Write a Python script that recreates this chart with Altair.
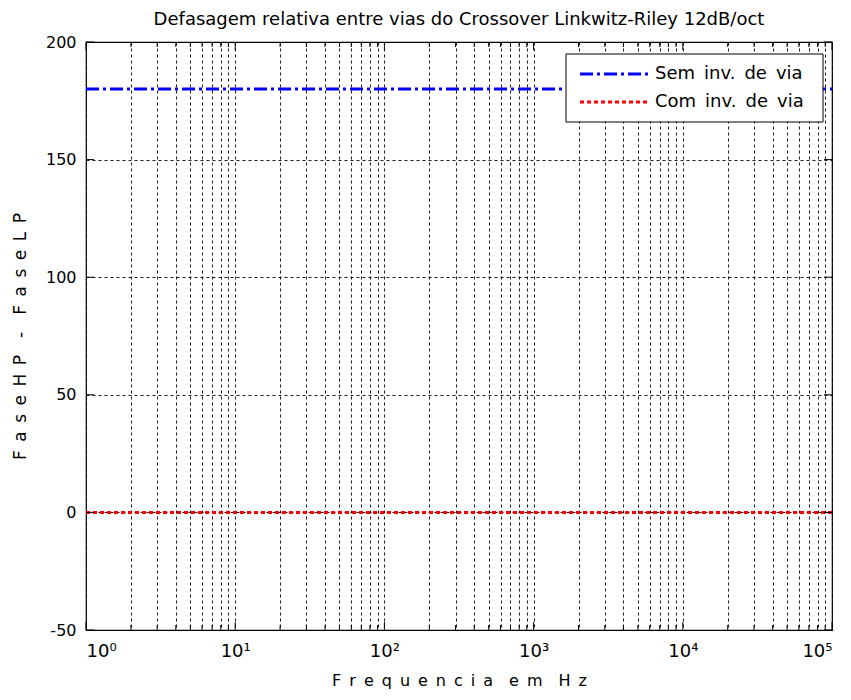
import altair as alt
import pandas as pd

# ---- data ----
freq_range = [1, 100000]
series_names = ["Sem inv. de via", "Com inv. de via"]
series_values = [180, 0]
major_freqs = [1, 10, 100, 1000, 10000, 100000]
minor_freqs = [k * 10 ** d for d in range(5) for k in range(2, 10)]
y_ticks = [-50, 0, 50, 100, 150, 200]

W, H = 746, 588
FONT = "DejaVu Sans"
SP = "\u2002"

def spaced(words):
    return (SP * 2).join(SP.join(list(w)) for w in words)

rows = []
for name, v in zip(series_names, series_values):
    for f in freq_range:
        rows.append({"freq": f, "fase": v, "serie": name})
lines_df = pd.DataFrame(rows)
maj_df = pd.DataFrame({"freq": major_freqs})
min_df = pd.DataFrame({"freq": minor_freqs})
yt_df = pd.DataFrame({"v": y_ticks})

xscale = alt.Scale(type="log", domain=[1, 100000], nice=False)
yscale = alt.Scale(domain=[-50, 200], nice=False, zero=False)
colors = ["#0000ff", "#ff0000"]
dashes = [[13, 4, 3, 4], [4, 3]]

label_expr = ("abs(datum.value - pow(10, round(log(datum.value)/LN10))) < 1e-6*datum.value ? "
              "'10' + ['⁰','¹','²','³','⁴','⁵'][round(log(datum.value)/LN10)] : ''")

x_axis = alt.Axis(values=sorted(major_freqs + minor_freqs), labelExpr=label_expr,
                  grid=True, gridDash=[3, 3], gridColor="black", gridOpacity=1, gridWidth=0.9,
                  ticks=False, domain=False, labelOverlap=False, labelPadding=12,
                  labelFontSize=18, labelFont=FONT, labelColor="black",
                  title=spaced(["Frequencia", "em", "Hz"]), titleFontSize=16, titleFont=FONT,
                  titleFontWeight="normal", titlePadding=12, titleColor="black")
y_axis = alt.Axis(values=y_ticks, labelExpr="replace(datum.label, '\u2212', '-')",
                  grid=True, gridDash=[3, 3], gridColor="black", gridOpacity=1,
                  gridWidth=0.9, ticks=False, domain=False, labelPadding=10,
                  labelFontSize=16, labelFont=FONT, labelColor="black",
                  title=spaced(["FaseHP", "-", "FaseLP"]), titleFontSize=17, titleFont=FONT,
                  titleFontWeight="normal", titlePadding=16, titleColor="black")

lines = alt.Chart(lines_df).mark_line(strokeWidth=3, clip=True).encode(
    x=alt.X("freq:Q", scale=xscale, axis=x_axis),
    y=alt.Y("fase:Q", scale=yscale, axis=y_axis),
    color=alt.Color("serie:N", scale=alt.Scale(domain=series_names, range=colors), legend=None),
    strokeDash=alt.StrokeDash("serie:N", scale=alt.Scale(domain=series_names, range=dashes), legend=None),
)

def xticks(df, y0, y1):
    return alt.Chart(df).mark_rule(color="black", strokeWidth=1).encode(
        x=alt.X("freq:Q", scale=xscale), y=alt.value(y0), y2=alt.value(y1))

def yticks(x0, x1):
    return alt.Chart(yt_df).mark_rule(color="black", strokeWidth=1).encode(
        y=alt.Y("v:Q", scale=yscale), x=alt.value(x0), x2=alt.value(x1))

# ---- manual legend (box in the top-right corner) ----
one = pd.DataFrame({"a": [0]})
LX0, LX1, LY0, LY1 = 480, 737, 12, 80
legend_box = alt.Chart(one).mark_rect(fill="white", stroke="black", strokeWidth=1).encode(
    x=alt.value(LX0), x2=alt.value(LX1), y=alt.value(LY0), y2=alt.value(LY1))
legend_layers = [legend_box]
for i, name in enumerate(series_names):
    yy = 32 + 28 * i
    legend_layers.append(alt.Chart(one).mark_rule(color=colors[i], strokeWidth=3, strokeDash=dashes[i]).encode(
        x=alt.value(494), x2=alt.value(562), y=alt.value(yy)))
    legend_layers.append(alt.Chart(one).mark_text(
        text=name.replace(" ", SP), align="left", baseline="middle", font=FONT, fontSize=18, color="black").encode(
        x=alt.value(569), y=alt.value(yy)))

chart = alt.layer(
    lines,
    xticks(maj_df, H, H - 8), xticks(maj_df, 0, 8),
    xticks(min_df, H, H - 5), xticks(min_df, 0, 5),
    yticks(0, 8), yticks(W, W - 8),
    *legend_layers,
).properties(
    width=W, height=H,
    title=alt.Title("Defasagem relativa entre vias do Crossover Linkwitz-Riley 12dB/oct",
                    fontSize=18, font=FONT, fontWeight="normal", color="black", offset=5),
    autosize=alt.AutoSizeParams(type="none"),
    padding={"left": 78, "top": 34, "right": 11, "bottom": 62},
).configure_view(stroke="black", strokeWidth=1.2)

chart.save("out.html", embed_options={"renderer": "svg", "actions": False})
